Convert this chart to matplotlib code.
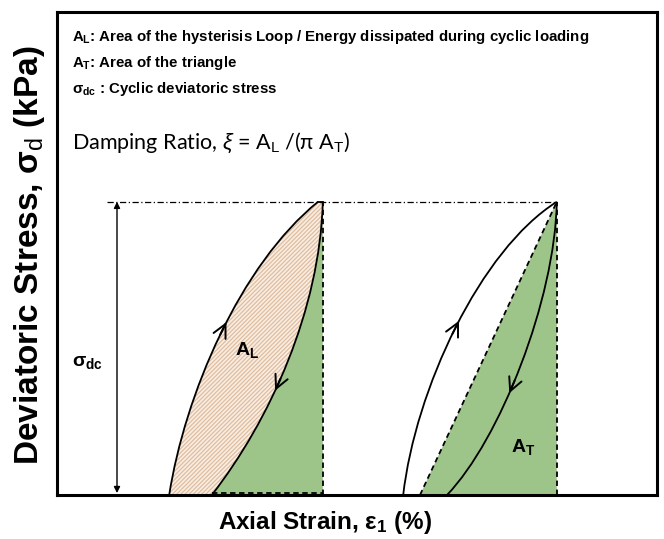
"""
Schematic of a cyclic stress-strain hysteresis loop and the damping ratio
 - left loop: area of the loop (A_L)
 - right loop: area of the triangle (A_T)
"""

import matplotlib
matplotlib.use("Agg")
import matplotlib.pyplot as plt
import numpy as np
from matplotlib.path import Path
from matplotlib.patches import PathPatch, Polygon
from matplotlib.bezier import BezierSegment

plt.rcParams['font.family'] = ['Liberation Sans', 'DejaVu Sans']
plt.rcParams['mathtext.fontset'] = 'custom'
plt.rcParams['mathtext.rm'] = 'Liberation Sans'
plt.rcParams['mathtext.it'] = 'Liberation Sans:italic'
plt.rcParams['mathtext.bf'] = 'Liberation Sans:bold'
plt.rcParams['hatch.linewidth'] = 0.9

# Data (axis units 0-100 on both axes) ----------------------------------------
peak_stress = 60.7

# cubic bezier control points [x, y] for each branch
left_loading = [(18.7, 0.0), (21.3, 20.7), (30.5, 47.6), (43.5, peak_stress)]
left_unloading = [(25.8, 0.0), (35.5, 15.5), (43.8, 38.3), (44.3, peak_stress)]
right_loading = [(57.7, 0.0), (59.7, 21.7), (70.5, 50.7), (83.3, peak_stress)]
right_unloading = [(65.0, 0.0), (73.8, 11.4), (83.0, 40.4), (83.3, peak_stress)]
triangle_base = 60.5

# where the direction arrows sit on each branch (bezier parameter)
arrow_t = {'left_loading': 0.52, 'left_unloading': 0.42,
           'right_loading': 0.5, 'right_unloading': 0.43}

legend_lines = [r"A$_\mathbf{L}$: Area of the hysterisis Loop / Energy dissipated during cyclic loading",
                r"A$_\mathbf{T}$: Area of the triangle",
                r"σ$_\mathbf{dc}$ : Cyclic deviatoric stress"]
damping_text = r"Damping Ratio, $\xi$ = A$_\mathrm{L}$ /(π A$_\mathrm{T}$)"

green = '#9dc58a'
tan_face = '#f9eee3'
tan_hatch = '#dfbd9f'

# -----------------------------------------------------------------------------
fig = plt.figure(figsize=(6.64, 5.39), dpi=100)
ax = fig.add_axes([57/664, 44/539, 600/664, 483/539])
ax.set_xlim(0, 100)
ax.set_ylim(0, 100)
ax.set_xticks([])
ax.set_yticks([])
for s in ax.spines.values():
  s.set_linewidth(2.2)


def curve_path(pts):
  return Path(pts, [Path.MOVETO, Path.CURVE4, Path.CURVE4, Path.CURVE4])


# left loop: hatched loop area and green area under the unloading branch
loop_verts = left_loading + [left_unloading[3]] + left_unloading[2::-1] + [left_loading[0]]
loop_codes = ([Path.MOVETO, Path.CURVE4, Path.CURVE4, Path.CURVE4, Path.LINETO,
               Path.CURVE4, Path.CURVE4, Path.CURVE4, Path.CLOSEPOLY])
ax.add_patch(PathPatch(Path(loop_verts, loop_codes), facecolor=tan_face, edgecolor='none', zorder=1))
ax.add_patch(PathPatch(Path(loop_verts, loop_codes), facecolor='none', edgecolor=tan_hatch,
                       hatch='////////', linewidth=0, zorder=1))

green_verts = left_unloading + [(left_unloading[3][0], 0.0), left_unloading[0]]
green_codes = [Path.MOVETO, Path.CURVE4, Path.CURVE4, Path.CURVE4, Path.LINETO, Path.CLOSEPOLY]
ax.add_patch(PathPatch(Path(green_verts, green_codes), facecolor=green, edgecolor='none', zorder=1))

# right loop: green triangle
tri = [(triangle_base, 0.0), right_loading[3], (right_loading[3][0], 0.0)]
ax.add_patch(Polygon(tri, closed=True, facecolor=green, edgecolor='none', zorder=1))

# curves
for pts in [left_loading, left_unloading, right_loading, right_unloading]:
  ax.add_patch(PathPatch(curve_path(pts), facecolor='none', edgecolor='black', lw=1.3, zorder=3))
ax.plot([left_loading[3][0], left_unloading[3][0]], [peak_stress, peak_stress], color='black', lw=1.3, zorder=3)

# dashed lines
ax.plot([left_unloading[3][0]] * 2, [0, peak_stress], 'k--', lw=1.3, dashes=(3, 2), zorder=3)
ax.plot([left_unloading[0][0], left_unloading[3][0]], [0.5, 0.5], 'k--', lw=1.3, dashes=(3, 2), zorder=3)
ax.plot([right_loading[3][0]] * 2, [0, peak_stress], 'k--', lw=1.3, dashes=(3, 2), zorder=3)
ax.plot([triangle_base, right_loading[3][0]], [0, peak_stress], 'k--', lw=1.3, dashes=(3, 2), zorder=3)

# dash-dot peak line
ax.plot([8.3, right_loading[3][0]], [peak_stress, peak_stress], color='black', lw=0.9,
        linestyle=(0, (5, 2, 1, 2)), zorder=2)

# cyclic stress double arrow
ax.annotate('', xy=(10.0, peak_stress), xytext=(10.0, 0.4),
            arrowprops=dict(arrowstyle='<|-|>', lw=1.0, color='black', mutation_scale=9,
                            shrinkA=0, shrinkB=0))
ax.text(5.0, 27.5, r"σ$_\mathbf{dc}$", fontsize=14, fontweight='bold', ha='center', va='center')

# direction arrows on each branch
branches = {'left_loading': (left_loading, 1), 'left_unloading': (left_unloading, -1),
            'right_loading': (right_loading, 1), 'right_unloading': (right_unloading, -1)}
for name, (pts, sign) in branches.items():
  seg = BezierSegment(np.array(pts))
  t = arrow_t[name]
  p0 = seg.point_at_t(t - 0.02 * sign)
  p1 = seg.point_at_t(t + 0.02 * sign)
  ax.annotate('', xy=p1, xytext=p0,
              arrowprops=dict(arrowstyle='->', lw=1.4, color='black', mutation_scale=24,
                              shrinkA=0, shrinkB=0), zorder=4)

# area labels
ax.text(31.7, 30.0, r"A$_\mathbf{L}$", fontsize=14, fontweight='bold', ha='center', va='center', zorder=5)
ax.text(77.7, 9.9, r"A$_\mathbf{T}$", fontsize=14, fontweight='bold', ha='center', va='center', zorder=5)

# legend text in the box
for y, txt in zip([94.8, 89.4, 84.1], legend_lines):
  ax.text(2.5, y, txt, fontsize=10.8, fontweight='bold', ha='left', va='center')
ax.text(2.5, 72.9, damping_text, fontsize=15.5, ha='left', va='center', family=['Lato', 'DejaVu Sans'])

# axis labels
fig.text(0.045, 0.527, r"Deviatoric Stress, σ$_\mathrm{d}$ (kPa)", rotation=90, fontsize=24,
         fontweight='bold', ha='center', va='center')
fig.text(0.489, 0.0315, r"Axial Strain, ε$_\mathbf{1}$ (%)", fontsize=17.5, fontweight='bold',
         ha='center', va='center')

plt.savefig("out.png", dpi=100)
plt.close()
